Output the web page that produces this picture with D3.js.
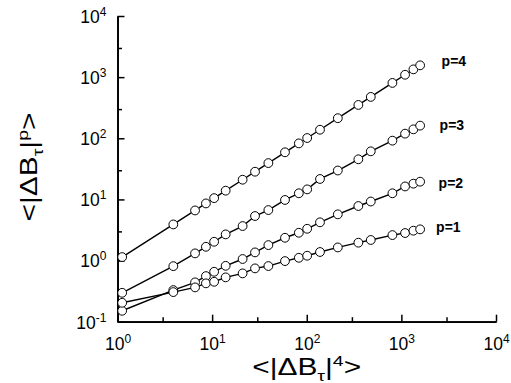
<!DOCTYPE html>
<html><head><meta charset="utf-8">
<script src="https://cdn.jsdelivr.net/npm/d3@7"></script>
<style>
html,body{margin:0;padding:0;background:#fff;}
svg{display:block;font-family:"Liberation Sans",Arial,sans-serif;}
</style></head>
<body>
<svg id="c" width="511" height="383"></svg>
<script>
const xVals = [1.12, 3.89, 6.6, 8.6, 10.5, 13.9, 21.0, 28.4, 39.3, 58.9, 82.5, 101, 138, 213, 351, 475, 804, 1094, 1340, 1578];
const p4 = [1.14, 3.9, 6.6, 8.6, 10.5, 13.9, 21.0, 28.4, 39.3, 59, 82.5, 101, 138, 213, 351, 475, 804, 1094, 1340, 1560];
const p3 = [0.297, 0.81, 1.31, 1.68, 2.03, 2.68, 3.67, 5.35, 6.7, 9.8, 12.6, 14.6, 21.6, 29.7, 45.3, 61.2, 91.4, 119, 140, 161];
const p2 = [0.151, 0.329, 0.44, 0.557, 0.656, 0.82, 1.06, 1.36, 1.79, 2.36, 2.85, 3.31, 4.22, 5.70, 7.80, 9.24, 12.6, 16.3, 18.1, 19.5];
const p1 = [0.204, 0.305, 0.364, 0.424, 0.45, 0.531, 0.617, 0.745, 0.813, 0.98, 1.11, 1.20, 1.38, 1.64, 1.96, 2.17, 2.61, 2.82, 3.08, 3.24];
const seriesNames = ["p=4", "p=3", "p=2", "p=1"];
const xMajor = [1, 10, 100, 1000, 10000];
const xMinor = [3, 30, 300, 3000];
const xExp = ["0", "1", "2", "3", "4"];
const yMajor = [0.1, 1, 10, 100, 1000, 10000];
const yMinor = [0.3, 3, 30, 300, 3000];
const yExp = ["-1", "0", "1", "2", "3", "4"];

const series = [p4, p3, p2, p1];
const svg = d3.select("#c");
const x = d3.scaleLog().domain([1, 1e4]).range([117.5, 496]);
const y = d3.scaleLog().domain([0.1, 1e4]).range([321.7, 16]);

function styleAxis(g){
  g.select(".domain").attr("stroke","#000").attr("stroke-width",1.7);
  g.selectAll(".tick line").attr("stroke","#000").attr("stroke-width",1.5);
}
const gx = svg.append("g").attr("transform","translate(0,321.7)")
  .call(d3.axisBottom(x).tickValues(xMajor).tickSizeInner(-7).tickSizeOuter(0).tickPadding(16).tickFormat(()=>""));
styleAxis(gx);
gx.selectAll(".tick text").each(function(d,i){
  const t = d3.select(this).attr("font-size",17.5).attr("fill","#000").attr("font-family",null);
  t.append("tspan").text("10");
  t.append("tspan").attr("font-size",12).attr("dy",-7).text(xExp[i]);
});
const gxm = svg.append("g").attr("transform","translate(0,321.7)")
  .call(d3.axisBottom(x).tickValues(xMinor).tickSizeInner(-4.5).tickSizeOuter(0).tickFormat(""));
styleAxis(gxm);

const gy = svg.append("g").attr("transform","translate(117.5,0)")
  .call(d3.axisLeft(y).tickValues(yMajor).tickSizeInner(-7).tickSizeOuter(0).tickPadding(11).tickFormat(()=>""));
styleAxis(gy);
gy.selectAll(".tick text").each(function(d,i){
  const t = d3.select(this).attr("font-size",17.5).attr("fill","#000").attr("font-family",null).attr("dy","0.36em");
  t.append("tspan").text("10");
  t.append("tspan").attr("font-size",12).attr("dy",-7).text(yExp[i]);
});
const gym = svg.append("g").attr("transform","translate(117.5,0)")
  .call(d3.axisLeft(y).tickValues(yMinor).tickSizeInner(-4.5).tickSizeOuter(0).tickFormat(""));
styleAxis(gym);

const line = d3.line().x(d=>x(d[0])).y(d=>y(d[1]));
series.forEach((s)=>{
  const pts = xVals.map((v,i)=>[v, s[i]]);
  svg.append("path").datum(pts).attr("d",line).attr("fill","none").attr("stroke","#000").attr("stroke-width",1.4);
});
series.forEach((s)=>{
  const pts = xVals.map((v,i)=>[v, s[i]]);
  svg.append("g").selectAll("circle").data(pts).join("circle")
    .attr("cx",d=>x(d[0])).attr("cy",d=>y(d[1])).attr("r",4.4)
    .attr("fill","#fff").attr("stroke","#000").attr("stroke-width",1);
});

const labDx = [21.5, 19.5, 18.5, 16];
const labDy = [0.5, 4.5, 6.5, 2.5];
series.forEach((s,k)=>{
  const n = s.length-1;
  svg.append("text").attr("x", x(xVals[n]) + labDx[k]).attr("y", y(s[n]) + labDy[k])
    .attr("font-size",14).attr("font-weight","bold").text(seriesNames[k]);
});

const xt = svg.append("text").attr("transform","translate(306.7,375) scale(1.3,1)").attr("text-anchor","middle").attr("font-size",23);
xt.append("tspan").text("<|ΔB");
xt.append("tspan").attr("font-size",15).attr("dy",6).text("τ");
xt.append("tspan").attr("dy",-6).text("|");
xt.append("tspan").attr("font-size",15).attr("dy",-9).text("4");
xt.append("tspan").attr("dy",9).text(">");

const yt = svg.append("text").attr("transform","translate(37,167) rotate(-90) scale(1.3,1)").attr("text-anchor","middle").attr("font-size",23);
yt.append("tspan").text("<|ΔB");
yt.append("tspan").attr("font-size",15).attr("dy",6).text("τ");
yt.append("tspan").attr("dy",-6).text("|");
yt.append("tspan").attr("font-size",15).attr("dy",-9).text("p");
yt.append("tspan").attr("dy",9).text(">");
</script>
</body></html>
